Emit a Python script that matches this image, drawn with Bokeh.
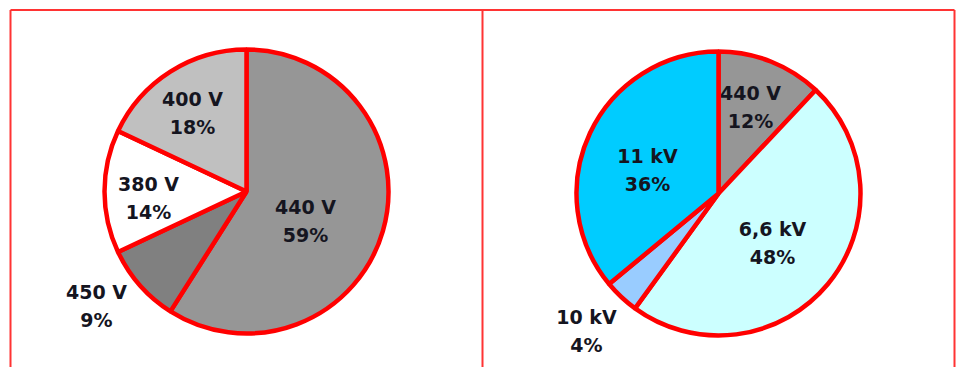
import numpy as np
from bokeh.plotting import figure
from bokeh.models import ColumnDataSource, Range1d
from bokeh.core.properties import value
from bokeh.embed import file_html
from bokeh.resources import INLINE

# ---- data ----
left_labels = ["440 V", "450 V", "380 V", "400 V"]
left_values = [59, 9, 14, 18]
left_colors = ["#969696", "#808080", "#ffffff", "#c0c0c0"]

right_labels = ["440 V", "6,6 kV", "10 kV", "11 kV"]
right_values = [12, 48, 4, 36]
right_colors = ["#969696", "#ccffff", "#99ccff", "#00ccff"]

# ---- layout (pixels) ----
W, H = 956, 367
left_center = (246, 191)
right_center = (718, 193)
R = 142
# label block centres relative to pie centre (dx right, dy down)
left_label_off = [(59, 29), (-150, 114), (-98, 6), (-54, -79)]
right_label_off = [(32, -87), (54, 49), (-132, 137), (-71, -24)]

FONT = "DejaVu Sans"
FS = "19px"
TXT = "#15151f"

p = figure(width=W, height=H, x_range=Range1d(0, W), y_range=Range1d(0, H),
           output_backend="svg", toolbar_location=None,
           x_axis_location=None, y_axis_location=None, min_border=0)
p.outline_line_color = None
p.grid.visible = False
p.background_fill_color = "white"
p.border_fill_color = "white"


def draw_pie(center, labels, values, colors, offsets):
    vals = np.array(values, dtype=float)
    frac = vals / vals.sum()
    cum = np.concatenate([[0], np.cumsum(frac)])
    start = np.pi / 2 - 2 * np.pi * cum[:-1]
    end = np.pi / 2 - 2 * np.pi * cum[1:]
    cx, cy = center
    src = ColumnDataSource(dict(x=[cx] * len(vals), y=[H - cy] * len(vals),
                                start=start, end=end, color=colors))
    p.wedge(x="x", y="y", radius=R, radius_units="screen",
            start_angle="start", end_angle="end", direction="clock",
            fill_color="color", line_color="#ff0000", line_width=4.5, source=src)
    lx = [cx + dx for dx, dy in offsets]
    ly = [H - (cy + dy) for dx, dy in offsets]
    pct = [f"{int(round(v))}%" for v in frac * 100]
    tsrc = ColumnDataSource(dict(x=lx, y=ly, lab=labels, pct=pct))
    p.text(x="x", y="y", text="lab", source=tsrc, y_offset=-14,
           text_align="center", text_baseline="middle",
           text_font=value(FONT), text_font_style="bold",
           text_font_size=FS, text_color=TXT)
    p.text(x="x", y="y", text="pct", source=tsrc, y_offset=14,
           text_align="center", text_baseline="middle",
           text_font=value(FONT), text_font_style="bold",
           text_font_size=FS, text_color=TXT)


draw_pie(left_center, left_labels, left_values, left_colors, left_label_off)
draw_pie(right_center, right_labels, right_values, right_colors, right_label_off)

# panel frame
top = H - 9.5
p.segment(x0=[10, 10, 482, 954], y0=[top, top, top, top],
          x1=[954, 10, 482, 954], y1=[top, -5, -5, -5],
          line_color="#ff3333", line_width=2)

open("out.html", "w").write(file_html(p, INLINE))
